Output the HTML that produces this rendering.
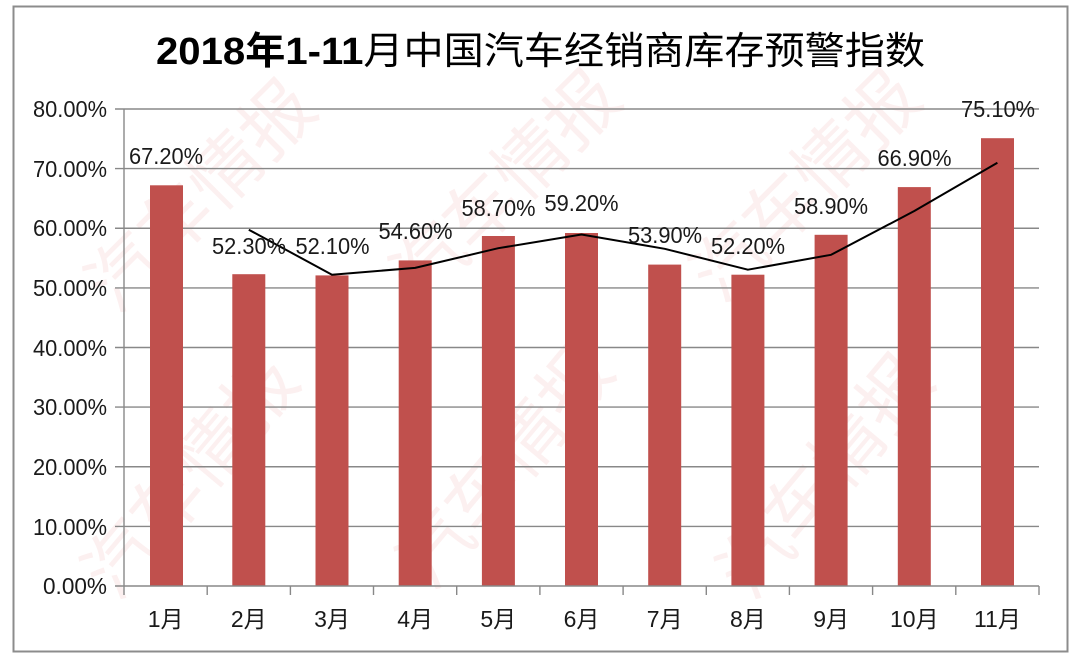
<!DOCTYPE html>
<html>
<head>
<meta charset="utf-8">
<style>
  html,body{margin:0;padding:0;background:#fff;}
  svg{display:block;}
  text{font-family:"Liberation Sans","Noto Sans CJK SC",sans-serif;}
</style>
</head>
<body>
<svg width="1080" height="667" viewBox="0 0 1080 667" xmlns="http://www.w3.org/2000/svg">
  <rect x="0" y="0" width="1080" height="667" fill="#ffffff"/>

  <!-- watermarks -->
  <g fill="#e87a7a" fill-opacity="0.11" font-size="72" font-family="Liberation Sans, Noto Sans CJK SC, sans-serif">
    <text transform="translate(205,200) rotate(-45)" text-anchor="middle" dominant-baseline="middle">汽车情报</text>
    <text transform="translate(510,190) rotate(-45)" text-anchor="middle" dominant-baseline="middle">汽车情报</text>
    <text transform="translate(810,190) rotate(-45)" text-anchor="middle" dominant-baseline="middle">汽车情报</text>
    <text transform="translate(195,480) rotate(-50)" text-anchor="middle" dominant-baseline="middle">汽车情报</text>
    <text transform="translate(510,470) rotate(-50)" text-anchor="middle" dominant-baseline="middle">汽车情报</text>
    <text transform="translate(830,480) rotate(-50)" text-anchor="middle" dominant-baseline="middle">汽车情报</text>
  </g>

  <!-- outer border -->
  <rect x="13.5" y="6.5" width="1054" height="645" fill="none" stroke="#8c8c8c" stroke-width="2"/>

  <!-- title -->
  <text x="156" y="64" font-size="38" fill="#000" textLength="769" lengthAdjust="spacingAndGlyphs"><tspan font-weight="bold">2018年1-11</tspan><tspan>月中国汽车经销商库存预警指数</tspan></text>

  <!-- gridlines -->
  <g stroke="#888888" stroke-width="1.4">
    <line x1="115" y1="109" x2="1039" y2="109"/>
    <line x1="115" y1="168.6" x2="1039" y2="168.6"/>
    <line x1="115" y1="228.25" x2="1039" y2="228.25"/>
    <line x1="115" y1="287.9" x2="1039" y2="287.9"/>
    <line x1="115" y1="347.5" x2="1039" y2="347.5"/>
    <line x1="115" y1="407.1" x2="1039" y2="407.1"/>
    <line x1="115" y1="466.75" x2="1039" y2="466.75"/>
    <line x1="115" y1="526.4" x2="1039" y2="526.4"/>
  </g>

  <!-- y axis labels -->
  <g font-size="23" fill="#1a1a1a" text-anchor="end">
    <text x="107" y="117" textLength="74" lengthAdjust="spacingAndGlyphs">80.00%</text>
    <text x="107" y="177" textLength="74" lengthAdjust="spacingAndGlyphs">70.00%</text>
    <text x="107" y="236" textLength="74" lengthAdjust="spacingAndGlyphs">60.00%</text>
    <text x="107" y="296" textLength="74" lengthAdjust="spacingAndGlyphs">50.00%</text>
    <text x="107" y="356" textLength="74" lengthAdjust="spacingAndGlyphs">40.00%</text>
    <text x="107" y="415" textLength="74" lengthAdjust="spacingAndGlyphs">30.00%</text>
    <text x="107" y="475" textLength="74" lengthAdjust="spacingAndGlyphs">20.00%</text>
    <text x="107" y="535" textLength="74" lengthAdjust="spacingAndGlyphs">10.00%</text>
    <text x="107" y="594" textLength="64" lengthAdjust="spacingAndGlyphs">0.00%</text>
  </g>

  <!-- bars -->
  <g fill="#c0504d">
    <rect x="150" y="185.3" width="33" height="400.7"/>
    <rect x="232.3" y="274.2" width="33" height="311.8"/>
    <rect x="315.5" y="275.4" width="33" height="310.6"/>
    <rect x="398.7" y="260.4" width="33" height="325.6"/>
    <rect x="481.9" y="236.0" width="33" height="350.0"/>
    <rect x="565.0" y="233.0" width="33" height="353.0"/>
    <rect x="648.2" y="264.6" width="33" height="321.4"/>
    <rect x="731.4" y="274.7" width="33" height="311.3"/>
    <rect x="814.6" y="234.8" width="33" height="351.2"/>
    <rect x="897.8" y="187.1" width="33" height="398.9"/>
    <rect x="981.0" y="138.2" width="33" height="447.8"/>
  </g>

  <!-- axes -->
  <g stroke="#888888" stroke-width="1.4" fill="none">
    <line x1="124" y1="109" x2="124" y2="595"/>
    <line x1="115" y1="586" x2="1039" y2="586"/>
    <line x1="207.2" y1="586" x2="207.2" y2="595"/>
    <line x1="290.4" y1="586" x2="290.4" y2="595"/>
    <line x1="373.5" y1="586" x2="373.5" y2="595"/>
    <line x1="456.7" y1="586" x2="456.7" y2="595"/>
    <line x1="539.9" y1="586" x2="539.9" y2="595"/>
    <line x1="623.1" y1="586" x2="623.1" y2="595"/>
    <line x1="706.3" y1="586" x2="706.3" y2="595"/>
    <line x1="789.4" y1="586" x2="789.4" y2="595"/>
    <line x1="872.6" y1="586" x2="872.6" y2="595"/>
    <line x1="955.8" y1="586" x2="955.8" y2="595"/>
    <line x1="1039" y1="586" x2="1039" y2="595"/>
  </g>

  <!-- moving average line -->
  <polyline fill="none" stroke="#000" stroke-width="2" stroke-linejoin="round"
    points="248.8,229.7 332.0,274.7 415.1,267.9 498.3,248.2 581.5,234.5 664.7,248.8 747.9,269.7 831.1,254.8 914.3,211.0 997.4,162.7"/>

  <!-- data labels -->
  <g font-size="23" fill="#1a1a1a" text-anchor="middle">
    <text x="166" y="164" textLength="74" lengthAdjust="spacingAndGlyphs">67.20%</text>
    <text x="249" y="254" textLength="74" lengthAdjust="spacingAndGlyphs">52.30%</text>
    <text x="332.5" y="254" textLength="74" lengthAdjust="spacingAndGlyphs">52.10%</text>
    <text x="415.5" y="239" textLength="74" lengthAdjust="spacingAndGlyphs">54.60%</text>
    <text x="498.5" y="216" textLength="74" lengthAdjust="spacingAndGlyphs">58.70%</text>
    <text x="581.5" y="211" textLength="74" lengthAdjust="spacingAndGlyphs">59.20%</text>
    <text x="665" y="243" textLength="74" lengthAdjust="spacingAndGlyphs">53.90%</text>
    <text x="748" y="254" textLength="74" lengthAdjust="spacingAndGlyphs">52.20%</text>
    <text x="831" y="214" textLength="74" lengthAdjust="spacingAndGlyphs">58.90%</text>
    <text x="914.5" y="166" textLength="74" lengthAdjust="spacingAndGlyphs">66.90%</text>
    <text x="998" y="117" textLength="74" lengthAdjust="spacingAndGlyphs">75.10%</text>
  </g>

  <!-- x labels -->
  <g font-size="23" fill="#1a1a1a" text-anchor="middle">
    <text x="165.6" y="627">1月</text>
    <text x="248.8" y="627">2月</text>
    <text x="332.0" y="627">3月</text>
    <text x="415.1" y="627">4月</text>
    <text x="498.3" y="627">5月</text>
    <text x="581.5" y="627">6月</text>
    <text x="664.7" y="627">7月</text>
    <text x="747.9" y="627">8月</text>
    <text x="831.1" y="627">9月</text>
    <text x="914.3" y="627">10月</text>
    <text x="997.4" y="627">11月</text>
  </g>
</svg>
</body>
</html>
